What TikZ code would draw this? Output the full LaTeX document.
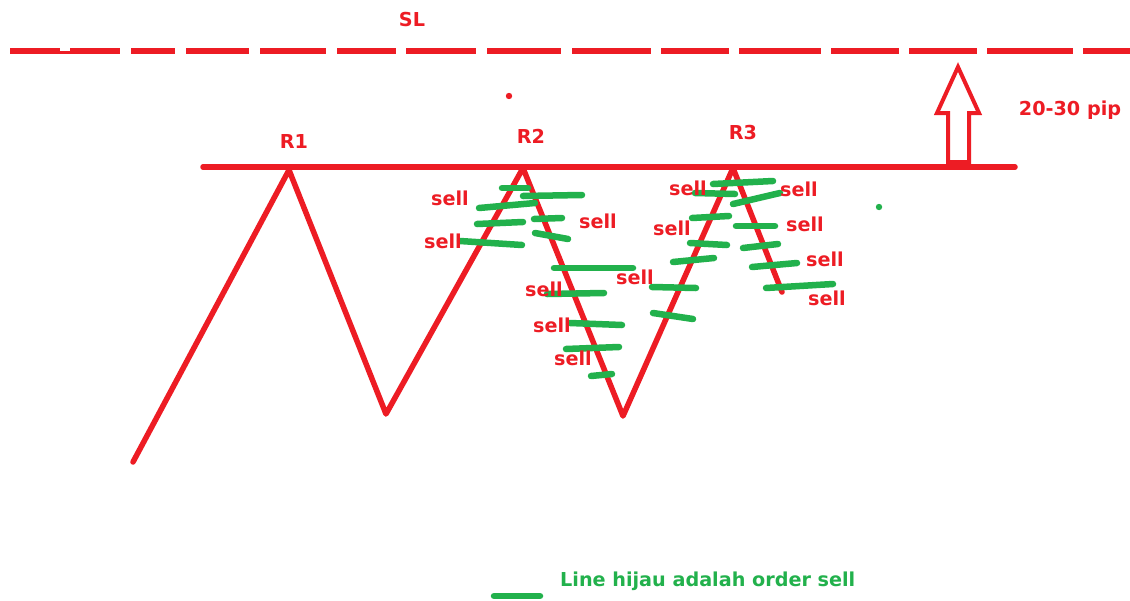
\documentclass[tikz,border=0pt]{standalone}
\usepackage{fontspec}
\setmainfont{DejaVu Sans}
\definecolor{pred}{HTML}{ED1C24}
\definecolor{pgreen}{HTML}{22B14C}
\begin{document}
\begin{tikzpicture}[x=1pt,y=-1pt,
  redline/.style={pred,line width=5.5pt,line cap=round,line join=round},
  dashseg/.style={pred,line width=5.5pt},
  greenline/.style={pgreen,line width=6.5pt,line cap=round},
  lbl/.style={text=pred,font=\bfseries\fontsize{19.2}{21}\selectfont,inner sep=0pt},
  legendtxt/.style={text=pgreen,font=\bfseries\fontsize{19.2}{21}\selectfont,inner sep=0pt,anchor=west}]
\useasboundingbox (0,0) rectangle (1130,600);
\fill[white] (0,0) rectangle (1130,600);
% SL dashed line
\foreach \a/\b in {10/120,131/175,186/249,260/326,337/396,406/476,487/561,572/651,661/729,739/821,831/899,909/977,987/1073,1083/1130}
  \draw[dashseg] (\a,51) -- (\b,51);
\fill[white] (60,48) rectangle (70,50.5);
\node[lbl] (sl) at (412,20) {SL};
% dots
\fill[pred] (509,96) circle (3.2);
\fill[pgreen] (879,207) circle (3.2);
% resistance line
\coordinate (resL) at (203,167);
\coordinate (resR) at (1015,167);
\draw[redline] (resL) -- (resR);
% zigzag
\coordinate (z0) at (133,462);
\coordinate (r1) at (289,170);
\coordinate (t1) at (386,414);
\coordinate (r2) at (523,168);
\coordinate (t2) at (623,416);
\coordinate (r3) at (733,168);
\coordinate (z6) at (782,292);
\draw[redline] (z0) -- (r1) -- (t1) -- (r2) -- (t2) -- (r3) -- (z6);
\node[lbl] (R1) at (294,141) {R1};
\node[lbl] (R2) at (531,136) {R2};
\node[lbl] (R3) at (743,133) {R3};
% hollow arrow
\draw[pred,line width=4pt,line join=miter] (958,67) -- (979,113) -- (969,113) -- (969,162) -- (948,162) -- (948,113) -- (937,113) -- cycle;
\node[lbl] (pip) at (1070,110) {20-30 pip};
% green order lines
\foreach \xa/\ya/\xb/\yb in {
  502/188/528/188, 523/196/582/195, 479/208/535/203, 477/224/523/222,
  460/241/522/245, 534/219/562/218, 535/233/568/239, 554/268/633/268,
  547/294/604/293, 570/323/622/325, 566/349/619/347, 591/376/612/374,
  713/184/773/181, 695/193/735/194, 733/204/780/193, 692/218/729/216,
  736/226/775/226, 690/243/727/245, 743/248/778/244, 673/262/714/258,
  752/267/797/263, 652/287/696/288, 766/288/833/284, 653/313/693/319}
  \draw[greenline] (\xa,\ya) -- (\xb,\yb);
% sell labels
\node[lbl] (s1) at (450,198) {sell};
\node[lbl] (s2) at (443,241) {sell};
\node[lbl] (s3) at (598,221) {sell};
\node[lbl] (s4) at (635,277) {sell};
\node[lbl] (s5) at (544,289) {sell};
\node[lbl] (s6) at (552,325) {sell};
\node[lbl] (s7) at (573,358) {sell};
\node[lbl] (s8) at (688,188) {sell};
\node[lbl] (s9) at (799,189) {sell};
\node[lbl] (s10) at (672,228) {sell};
\node[lbl] (s11) at (805,224) {sell};
\node[lbl] (s12) at (825,259) {sell};
\node[lbl] (s13) at (827,298) {sell};
% legend
\coordinate (legA) at (494,596);
\coordinate (legB) at (540,596);
\draw[greenline] (legA) -- (legB);
\node[legendtxt] (leg) at (560,581) {Line hijau adalah order sell};
\end{tikzpicture}
\end{document}
